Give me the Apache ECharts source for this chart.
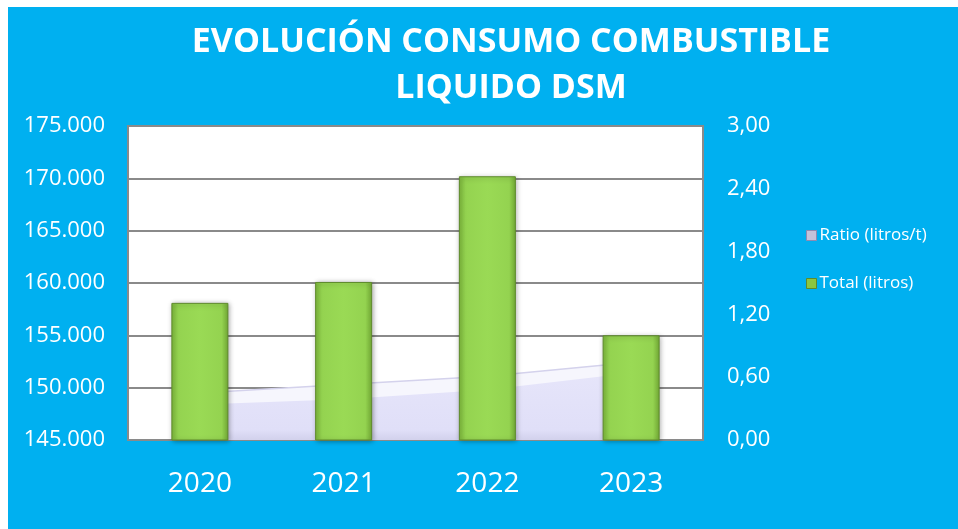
<!DOCTYPE html>
<html>
<head>
<meta charset="utf-8">
<script src="https://cdn.jsdelivr.net/npm/echarts@6/dist/echarts.min.js"></script>
<style>
html,body{margin:0;padding:0;background:#ffffff;}
#wrap{position:absolute;left:8px;top:7px;width:950px;height:522px;background:#00B0F0;}
#chart{position:absolute;left:0;top:0;width:958px;height:529px;}
</style>
</head>
<body>
<div id="wrap"></div>
<div id="chart"></div>
<script>
const categories = ['2020', '2021', '2022', '2023'];
const totalLitros = [158100, 160100, 170200, 155000];
const ratioLitrosT = [0.34, 0.39, 0.48, 0.64];
const ratioBackEdge = [0.45, 0.53, 0.61, 0.74];
const leftTicks = [145000, 150000, 155000, 160000, 165000, 170000, 175000];
const rightTicks = [0, 0.6, 1.2, 1.8, 2.4, 3.0];

const fmtLeft = v => Math.round(v).toString().replace(/\B(?=(\d{3})+(?!\d))/g, '.');
const fmtRight = v => v.toFixed(2).replace('.', ',');

const chart = echarts.init(document.getElementById('chart'), null, {renderer: 'canvas'});
const FONT = '"Open Sans", "Noto Sans", sans-serif';

chart.setOption({
  backgroundColor: 'transparent',
  animation: false,
  textStyle: {fontFamily: FONT},
  title: {
    text: 'EVOLUCIÓN CONSUMO COMBUSTIBLE\nLIQUIDO DSM',
    left: 506, textAlign: 'center', top: 14,
    textStyle: {color: '#ffffff', fontSize: 34, fontWeight: 'bold', lineHeight: 46, fontFamily: FONT}
  },
  legend: {
    orient: 'vertical',
    left: 801, top: 222,
    itemGap: 31,
    itemWidth: 10, itemHeight: 10,
    icon: 'rect',
    data: [
      {name: 'Ratio (litros/t)', itemStyle: {color: '#C4C2DA', borderColor: '#8E8AB0', borderWidth: 1}},
      {name: 'Total (litros)', itemStyle: {color: '#8CC63F', borderColor: '#5E8A2A', borderWidth: 1}}
    ],
    textStyle: {color: '#ffffff', fontSize: 17, fontFamily: FONT, padding: [0, 0, 0, -2]}
  },
  grid: {
    left: 128, right: 255, top: 126, bottom: 89,
    show: true, backgroundColor: '#ffffff', borderColor: '#8a8a8a', borderWidth: 2
  },
  xAxis: {
    type: 'category',
    data: categories,
    boundaryGap: true,
    axisLine: {show: false},
    axisTick: {show: false},
    axisLabel: {color: '#ffffff', fontSize: 28, margin: 30, fontFamily: FONT}
  },
  yAxis: [
    {
      type: 'value', min: 145000, max: 175000, interval: 5000,
      axisLine: {show: false}, axisTick: {show: false},
      splitLine: {show: true, lineStyle: {color: '#8a8a8a', width: 2}},
      axisLabel: {color: '#ffffff', fontSize: 22, margin: 23, formatter: fmtLeft, fontFamily: FONT}
    },
    {
      type: 'value', min: 0, max: 3, interval: 0.6,
      axisLine: {show: false}, axisTick: {show: false},
      splitLine: {show: false},
      axisLabel: {color: '#ffffff', fontSize: 22, margin: 24, formatter: fmtRight, fontFamily: FONT}
    }
  ],
  series: [
    {
      name: 'RatioBack',
      type: 'line',
      yAxisIndex: 1,
      data: ratioBackEdge,
      symbol: 'none',
      z: 1,
      silent: true,
      lineStyle: {color: '#D4D2EC', width: 1.5},
      areaStyle: {color: '#F6F6FD', opacity: 1}
    },
    {
      name: 'Ratio (litros/t)',
      type: 'line',
      yAxisIndex: 1,
      data: ratioLitrosT,
      symbol: 'none',
      z: 2,
      lineStyle: {width: 0, color: '#E2E1F8'},
      itemStyle: {color: '#C4C2DA'},
      areaStyle: {
        opacity: 1,
        color: new echarts.graphic.LinearGradient(0, 0, 0, 1, [
          {offset: 0, color: '#E6E5FA'},
          {offset: 0.85, color: '#E0DFF8'},
          {offset: 1, color: '#D2D1EC'}
        ])
      }
    },
    {
      name: 'Total (litros)',
      type: 'bar',
      yAxisIndex: 0,
      data: totalLitros,
      barWidth: 57,
      z: 5,
      itemStyle: {
        color: new echarts.graphic.LinearGradient(0, 0, 1, 0, [
          {offset: 0, color: '#7DB83C'},
          {offset: 0.12, color: '#94D350'},
          {offset: 0.5, color: '#9ADA55'},
          {offset: 0.88, color: '#94D350'},
          {offset: 1, color: '#74AC36'}
        ]),
        borderColor: '#5F8B2C',
        borderWidth: 1,
        shadowColor: 'rgba(0,0,0,0.35)',
        shadowBlur: 5,
        shadowOffsetX: 1,
        shadowOffsetY: 1
      }
    }
  ]
});
</script>
</body>
</html>
